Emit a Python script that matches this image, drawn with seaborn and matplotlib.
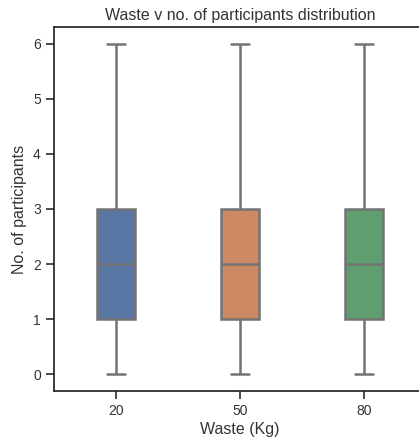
import numpy as np
import pandas as pd
import matplotlib
matplotlib.use("Agg")
import matplotlib.pyplot as plt
import seaborn as sns

# waste categories (kg) and participants counts per category
waste_levels = [20, 50, 80]
participants_20 = [0, 1, 1, 1, 2, 2, 2, 3, 3, 3, 6]
participants_50 = [0, 1, 1, 1, 2, 2, 2, 3, 3, 3, 6]
participants_80 = [0, 1, 1, 1, 2, 2, 2, 3, 3, 3, 6]

df = pd.DataFrame({
    'waste': [20] * len(participants_20) + [50] * len(participants_50) + [80] * len(participants_80),
    'participants': participants_20 + participants_50 + participants_80,
})

sns.set_theme(style='ticks', palette='deep')
plt.rcParams['font.family'] = ['Liberation Sans', 'DejaVu Sans']

fig = plt.figure(figsize=(4.19, 4.41), dpi=100)
ax = fig.add_axes([54 / 419, 50 / 441, 372 / 419, 364 / 441])

sns.boxplot(data=df, x='waste', y='participants', hue='waste', order=waste_levels,
            palette='deep', legend=False, width=0.3, linecolor='#737373',
            linewidth=1.8, ax=ax)

ax.set_title('Waste v no. of participants distribution', fontsize=11.5, color='#333333', pad=5)
ax.set_xlabel('Waste (Kg)', fontsize=11.5, color='#333333', labelpad=3)
ax.set_ylabel('No. of participants', fontsize=11.5, color='#333333')
ax.tick_params(labelsize=10, colors='#333333')
ax.set_yticks(range(0, 7))

fig.savefig('out.png', dpi=100)
